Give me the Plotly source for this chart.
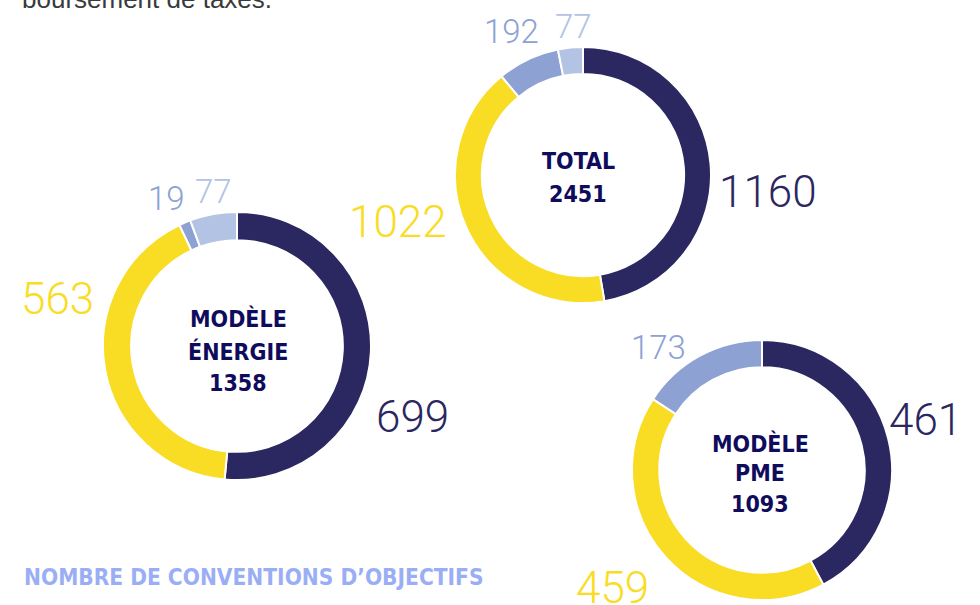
import plotly.graph_objects as go

categories = ["Segment 1", "Segment 2", "Segment 3", "Segment 4"]
total_values = [1160, 1022, 192, 77]
energie_values = [699, 563, 19, 77]
pme_values = [461, 459, 173]
center_lines = [["TOTAL", "2451"], ["MODÈLE", "ÉNERGIE", "1358"], ["MODÈLE", "PME", "1093"]]
footer_text = "NOMBRE DE CONVENTIONS D’OBJECTIFS"
header_text = "boursement de taxes."

NAVY = "#2B2760"
YELLOW = "#F9DC24"
MID = "#8DA2D3"
LIGHT = "#B3C3E3"
colors4 = [NAVY, YELLOW, MID, LIGHT]
colors3 = [NAVY, YELLOW, MID]

W, H = 980, 605

def px(x):
    return x / W

def py(y):
    return 1 - y / H

fig = go.Figure()

def add_donut(values, cols, box):
    x0, y0, x1, y1 = box
    fig.add_trace(go.Pie(
        labels=categories[:len(values)], values=values, sort=False,
        direction="clockwise", rotation=0, hole=0.79,
        marker=dict(colors=cols, line=dict(color="white", width=2)),
        textinfo="none", hoverinfo="label+value", showlegend=False,
        domain=dict(x=[px(x0), px(x1)], y=[py(y1), py(y0)]),
    ))

add_donut(total_values, colors4, (455, 47, 711, 303))
add_donut(energie_values, colors4, (103, 212, 371, 480))
add_donut(pme_values, colors3, (632, 340, 892, 600))

num_font = "Roboto"
big, small = 44, 33

def num(val, x, y, color, size):
    fig.add_annotation(text=str(val), x=px(x), y=py(y), xref="paper", yref="paper",
                       showarrow=False, xanchor="center", yanchor="middle",
                       font=dict(family=num_font, size=size, color=color, weight=300))

# TOTAL labels
num(total_values[0], 768, 192, NAVY, big)
num(total_values[1], 398, 222, YELLOW, big)
num(total_values[2], 511, 32, MID, small)
num(total_values[3], 573, 26, LIGHT, small)
# ENERGIE labels
num(energie_values[0], 412, 417, NAVY, big)
num(energie_values[1], 57, 299, YELLOW, big)
num(energie_values[2], 166, 198, MID, small)
num(energie_values[3], 213, 192, LIGHT, small)
# PME labels
num(pme_values[0], 925, 420, NAVY, big)
num(pme_values[1], 612, 588, YELLOW, big)
num(pme_values[2], 658, 348, MID, small)

cond = "DejaVu Sans Condensed, DejaVu Sans, sans-serif"
center_font = dict(family=cond, size=23, color="#100C5C", weight="bold")
center_pos = [(578, [161, 194]), (238, [318, 351, 383]), (760, [443, 473, 504])]
for lines, (cx, ys) in zip(center_lines, center_pos):
    for line, cy in zip(lines, ys):
        fig.add_annotation(text=line, x=px(cx), y=py(cy), xref="paper", yref="paper",
                           showarrow=False, xanchor="center", yanchor="middle",
                           font=center_font)

fig.add_annotation(text=footer_text, x=px(22), y=py(577), xref="paper", yref="paper",
                   showarrow=False, xanchor="left", yanchor="middle",
                   font=dict(family=cond, size=22.5, color="#9AAEF5", weight="bold"))

fig.add_annotation(text=header_text, x=px(20), y=py(-1), xref="paper", yref="paper",
                   showarrow=False, xanchor="left", yanchor="middle",
                   font=dict(family="Liberation Sans", size=26, color="#3a3a3a"))

fig.update_layout(width=W, height=H, margin=dict(l=0, r=0, t=0, b=0),
                  paper_bgcolor="white", plot_bgcolor="white")

fig.write_html("out.html", config={"displayModeBar": False},
               post_script="document.body.style.margin='0';")
